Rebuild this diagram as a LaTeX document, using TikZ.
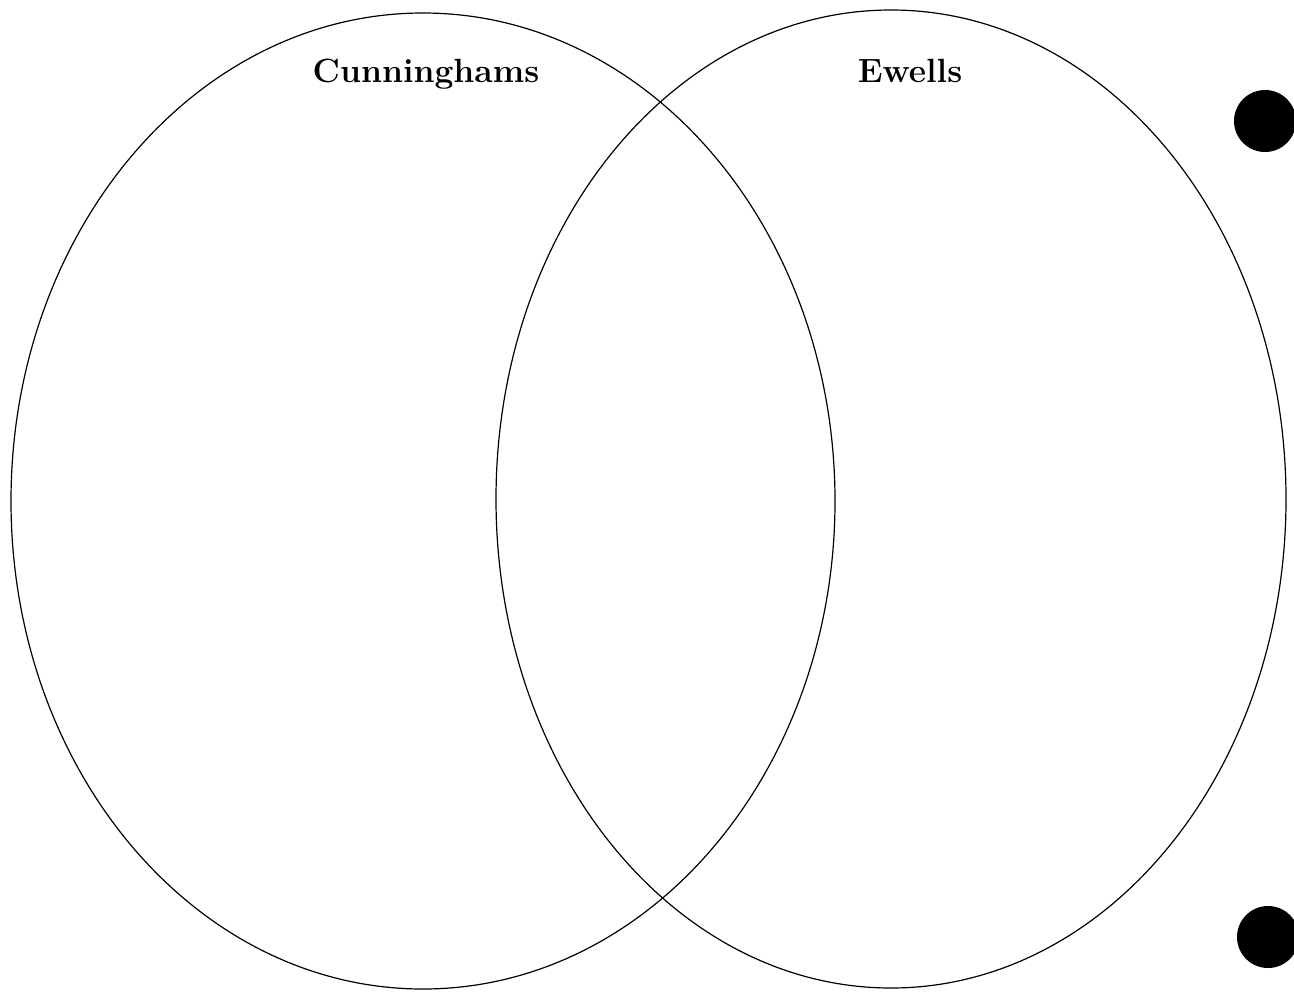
\documentclass[tikz,border=0pt]{standalone}
\usepackage{tikz}

\begin{document}
\begin{tikzpicture}[x=0.5pt,y=-0.5pt,line width=0.6pt]
  \useasboundingbox (0,0) rectangle (1294,991);
  \draw (423,501) ellipse [x radius=206pt, y radius=244pt];
  \draw (891,499) ellipse [x radius=197.5pt, y radius=244.5pt];
  \node[anchor=base] (cunninghams) at (426,82) {\fontsize{16.8}{20}\selectfont\bfseries Cunninghams};
  \node[anchor=base] (ewells) at (910,82) {\fontsize{16.8}{20}\selectfont\bfseries Ewells};
  \node[circle,fill,inner sep=0pt,minimum size=31pt] (holetop) at (1265,121) {};
  \node[circle,fill,inner sep=0pt,minimum size=31pt] (holebottom) at (1268,937) {};
\end{tikzpicture}
\end{document}
